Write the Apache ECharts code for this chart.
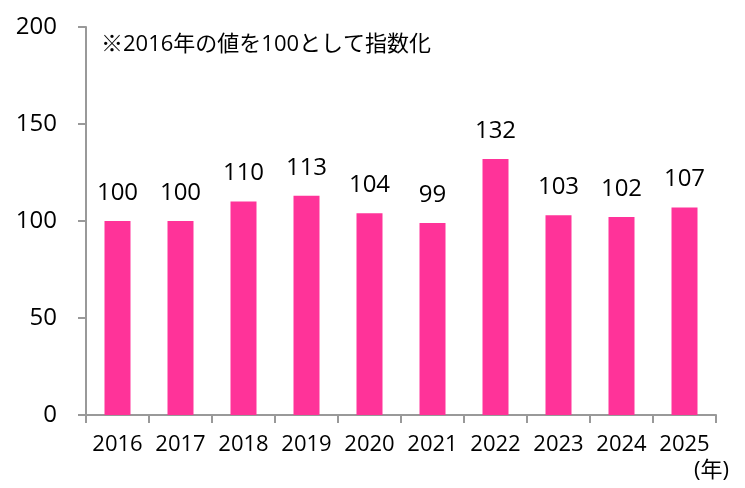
<!DOCTYPE html>
<html>
<head>
<meta charset="utf-8">
<script src="https://cdn.jsdelivr.net/npm/echarts@6/dist/echarts.min.js"></script>
<style>
  html, body { margin: 0; padding: 0; background: #fff; }
  #main { width: 745px; height: 488px; }
</style>
</head>
<body>
<div id="main"></div>
<script>
// データ
const years = ['2016', '2017', '2018', '2019', '2020', '2021', '2022', '2023', '2024', '2025']
const values = [100, 100, 110, 113, 104, 99, 132, 103, 102, 107]
const yTicks = [0, 50, 100, 150, 200]

const font = '"Open Sans", "Noto Sans CJK JP", sans-serif'
const myChart = echarts.init(document.querySelector('#main'))

const option = {
  animation: false,
  textStyle: { fontFamily: font },
  grid: { left: 86, right: 29, top: 27, bottom: 73 },
  graphic: [
    {
      type: 'text', left: 101, top: 34,
      style: { text: '※2016年の値を100として指数化', fill: '#000', font: '22px ' + font }
    },
    {
      type: 'text', left: 694, top: 460,
      style: { text: '(年)', fill: '#000', font: '22px ' + font }
    }
  ],
  xAxis: {
    type: 'category',
    data: years,
    axisLine: { lineStyle: { color: '#999', width: 2 } },
    axisTick: { show: true, interval: 0, length: 8, lineStyle: { color: '#999', width: 2 } },
    axisLabel: { color: '#000', fontSize: 22, margin: 19, interval: 0, hideOverlap: false, fontFamily: font }
  },
  yAxis: {
    type: 'value',
    min: yTicks[0],
    max: yTicks[yTicks.length - 1],
    interval: 50,
    splitLine: { show: false },
    axisLine: { show: true, lineStyle: { color: '#999', width: 2 } },
    axisTick: { show: true, length: 8, lineStyle: { color: '#999', width: 2 } },
    axisLabel: { color: '#000', fontSize: 24, margin: 29, fontFamily: font }
  },
  series: [
    {
      type: 'bar',
      data: values,
      barWidth: 26,
      itemStyle: { color: '#FF3399' },
      label: {
        show: true,
        position: 'top',
        distance: 16,
        color: '#000',
        fontSize: 24,
        fontFamily: font
      }
    }
  ]
}
myChart.setOption(option)
</script>
</body>
</html>
